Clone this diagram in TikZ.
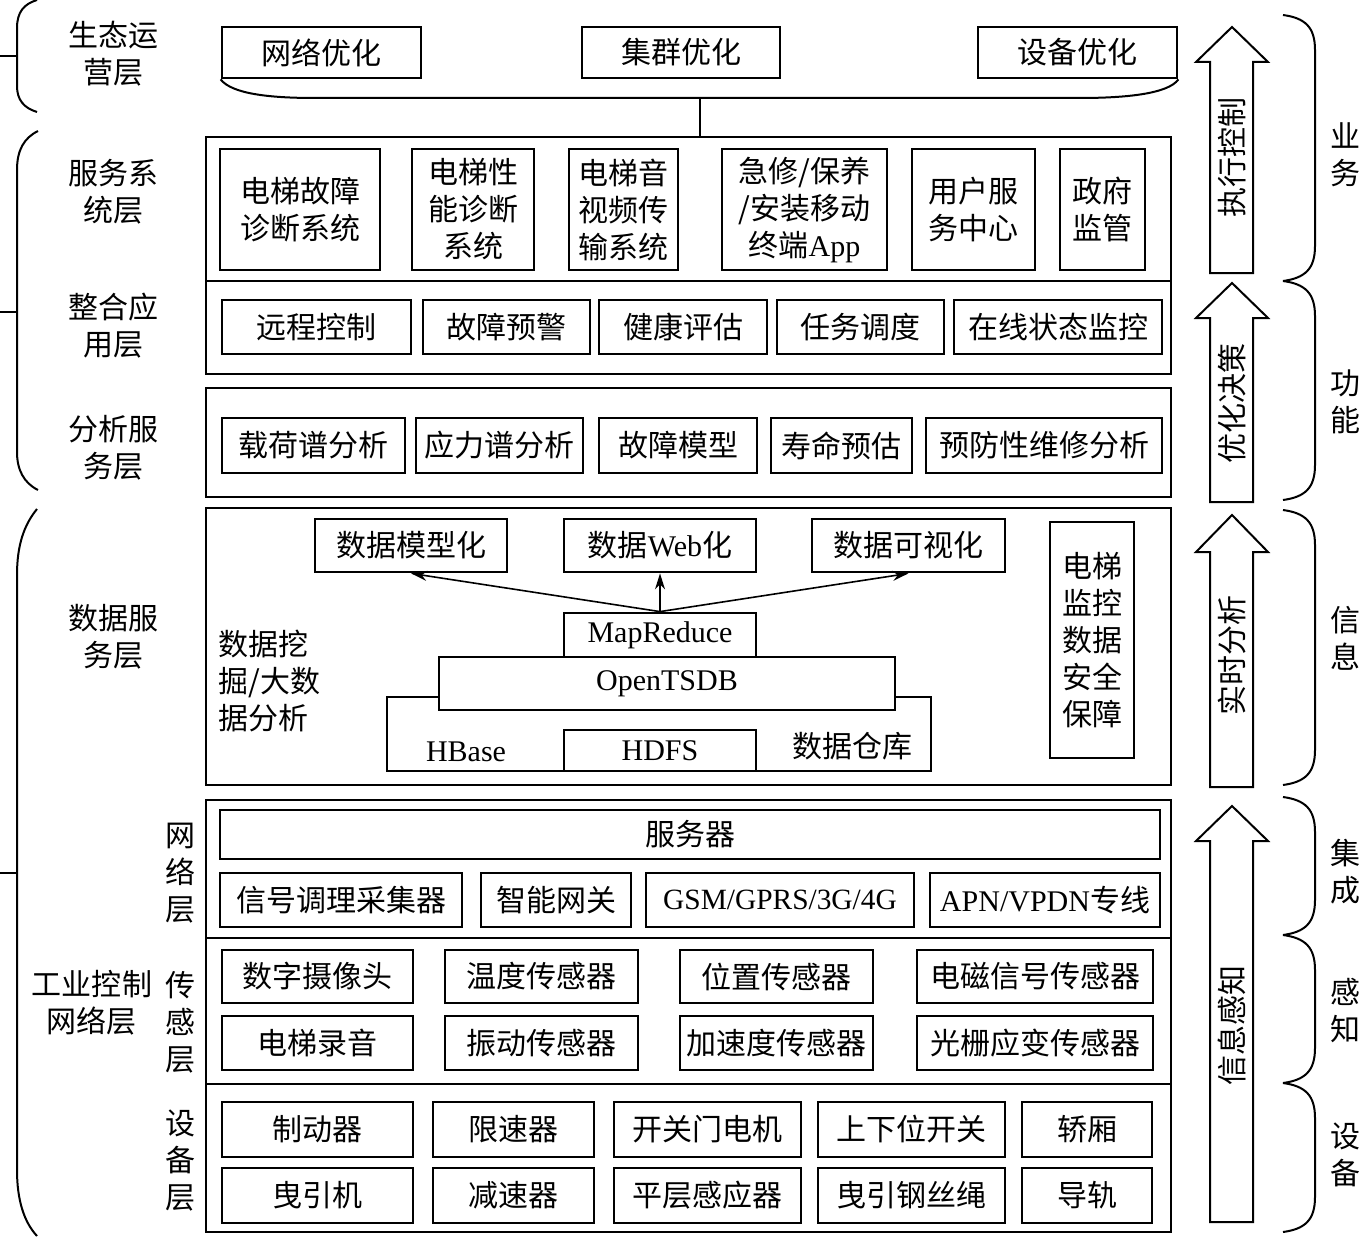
\documentclass[tikz,border=0pt]{standalone}
\usepackage{fontspec}
\setmainfont{Liberation Serif}
\newfontfamily\cjk{Noto Sans CJK SC}
\usetikzlibrary{arrows.meta}
\newcommand\bx[7][bx]{\node[#1, minimum width={(#5-#3)*0.5pt}, minimum height={(#6-#4)*0.5pt}] (#2) at ({(#3+#5)/2},{(#4+#6)/2}) {#7};}
\newcommand\blk[3]{\draw[barrow] (1232,#1) -- (1268,#2) -- (1253,#2) -- (1253,#3) -- (1210,#3) -- (1210,#2) -- (1196,#2) -- cycle;}
\begin{document}
\begin{tikzpicture}[x=0.5pt,y=-0.5pt,
  txt/.style={font=\cjk\fontsize{15}{18.5}\selectfont, align=center, inner sep=0pt},
  bx/.style={txt, draw, line width=1.4pt},
  layer/.style={draw, line width=1.4pt, inner sep=0pt},
  brc/.style={line width=1pt},
  flow/.style={line width=0.8pt, -{Stealth[length=8pt,width=5pt]}},
  barrow/.style={draw, line width=1pt, line join=miter},
]
\useasboundingbox (0,0) rectangle (1359,1236);

% ---------- layer frames ----------
\bx[layer]{svc}{206}{137}{1171}{281}{}
\bx[layer]{integ}{206}{281}{1171}{374}{}
\bx[layer]{ana}{206}{388}{1171}{497}{}
\bx[layer]{dat}{206}{508}{1171}{785}{}
\bx[layer]{net}{206}{800}{1171}{938}{}
\bx[layer]{sen}{206}{938}{1171}{1084}{}
\bx[layer]{dev}{206}{1084}{1171}{1232}{}

% ---------- ecological operation ----------
\bx{opt1}{222}{27}{421}{78}{网络优化}
\bx{opt2}{582}{27}{780}{78}{集群优化}
\bx{opt3}{978}{27}{1177}{78}{设备优化}
\draw[brc] (opt1.south west) .. controls (232,94) and (270,98) .. (315,98) -- (1080,98) .. controls (1125,98) and (1168,94) .. (opt3.south east);
\coordinate (bm) at (700,98);
\draw[brc] (bm) -- (bm |- svc.north);

% ---------- service systems ----------
\bx{s1}{220}{149}{380}{270}{电梯故障\\诊断系统}
\bx{s2}{412}{149}{534}{270}{电梯性\\能诊断\\系统}
\bx{s3}{569}{149}{678}{270}{电梯音\\视频传\\输系统}
\bx{s4}{722}{149}{887}{270}{急修/保养\\/安装移动\\终端{\rmfamily App}}
\bx{s5}{912}{149}{1035}{270}{用户服\\务中心}
\bx{s6}{1060}{149}{1145}{270}{政府\\监管}

% ---------- integration ----------
\bx{i1}{222}{300}{411}{354}{远程控制}
\bx{i2}{423}{300}{590}{354}{故障预警}
\bx{i3}{599}{300}{767}{354}{健康评估}
\bx{i4}{777}{300}{944}{354}{任务调度}
\bx{i5}{954}{300}{1162}{354}{在线状态监控}

% ---------- analysis ----------
\bx{a1}{222}{418}{405}{473}{载荷谱分析}
\bx{a2}{416}{418}{583}{473}{应力谱分析}
\bx{a3}{599}{418}{757}{473}{故障模型}
\bx{a4}{771}{418}{912}{473}{寿命预估}
\bx{a5}{926}{418}{1162}{473}{预防性维修分析}

% ---------- data service ----------
\bx{d1}{315}{519}{507}{572}{数据模型化}
\bx{d2}{564}{519}{756}{572}{数据{\rmfamily Web}化}
\bx{d3}{812}{519}{1005}{572}{数据可视化}
\bx{dsec}{1050}{522}{1134}{758}{电梯\\监控\\数据\\安全\\保障}
\bx{hb}{387}{697}{931}{771}{}
\bx[bx,fill=white]{ots}{439}{657}{895}{710}{{\rmfamily OpenTSDB}}
\bx[bx,fill=white]{mr}{564}{613}{756}{657}{{\rmfamily MapReduce}}
\bx{hdfs}{564}{730}{756}{771}{{\rmfamily HDFS}}
\node[txt] (hbl) at (466,752) {\rmfamily HBase};
\node[txt] (dwh) at (852,746) {数据仓库};
\node[txt, align=left, anchor=west] (mine) at (218,681) {数据挖\\掘/大数\\据分析};
\draw[flow] (mr.north) -- (d1.south);
\draw[flow] (mr.north) -- (d2.south);
\draw[flow] (mr.north) -- (d3.south);

% ---------- network ----------
\bx{srv}{220}{810}{1160}{859}{服务器}
\bx{n1}{220}{873}{462}{927}{信号调理采集器}
\bx{n2}{481}{873}{631}{927}{智能网关}
\bx[bx, font=\rmfamily\fontsize{14.7}{17}\selectfont]{n3}{646}{873}{914}{927}{GSM/GPRS/3G/4G}
\bx{n4}{930}{873}{1160}{927}{{\rmfamily APN/VPDN}专线}

% ---------- sensors ----------
\bx{e1}{222}{950}{413}{1003}{数字摄像头}
\bx{e2}{445}{950}{638}{1003}{温度传感器}
\bx{e3}{680}{950}{873}{1003}{位置传感器}
\bx{e4}{917}{950}{1153}{1003}{电磁信号传感器}
\bx{e5}{222}{1016}{413}{1070}{电梯录音}
\bx{e6}{445}{1016}{638}{1070}{振动传感器}
\bx{e7}{680}{1016}{873}{1070}{加速度传感器}
\bx{e8}{917}{1016}{1153}{1070}{光栅应变传感器}

% ---------- devices ----------
\bx{q1}{222}{1102}{413}{1157}{制动器}
\bx{q2}{433}{1102}{594}{1157}{限速器}
\bx{q3}{614}{1102}{801}{1157}{开关门电机}
\bx{q4}{818}{1102}{1005}{1157}{上下位开关}
\bx{q5}{1022}{1102}{1152}{1157}{轿厢}
\bx{q6}{222}{1168}{413}{1223}{曳引机}
\bx{q7}{433}{1168}{594}{1223}{减速器}
\bx{q8}{614}{1168}{801}{1223}{平层感应器}
\bx{q9}{818}{1168}{1005}{1223}{曳引钢丝绳}
\bx{q10}{1022}{1168}{1152}{1223}{导轨}

% ---------- left labels ----------
\node[txt] (l1) at (113,54) {生态运\\营层};
\node[txt] (l2) at (113,192) {服务系\\统层};
\node[txt] (l3) at (113,326) {整合应\\用层};
\node[txt] (l4) at (113,448) {分析服\\务层};
\node[txt] (l5) at (113,637) {数据服\\务层};
\node[txt] (l6) at (180,873) {网\\络\\层};
\node[txt] (l7) at (180,1022) {传\\感\\层};
\node[txt] (l8) at (180,1160) {设\\备\\层};
\node[txt] (l9) at (92,1003) {工业控制\\网络层};

% ---------- left braces ----------
\draw[brc] (37,0) .. controls (24,4) and (17,12) .. (17,28) -- (17,86) .. controls (17,100) and (24,108) .. (37,112);
\draw[brc] (0,56) -- (17,56);
\draw[brc] (38,131) .. controls (24,138) and (17,150) .. (17,170) -- (17,452) .. controls (17,470) and (24,483) .. (38,490);
\draw[brc] (0,312) -- (17,312);
\draw[brc] (37,509) .. controls (24,525) and (17,545) .. (17,575) -- (17,1170) .. controls (17,1200) and (24,1222) .. (37,1236);
\draw[brc] (0,873) -- (17,873);

% ---------- right block arrows ----------
\blk{27}{62}{273}
\blk{283}{318}{502}
\blk{515}{552}{787}
\blk{806}{841}{1222}
\node[txt, rotate=90] (t1) at (1232,157) {执行控制};
\node[txt, rotate=90] (t2) at (1232,403) {优化决策};
\node[txt, rotate=90] (t3) at (1232,655) {实时分析};
\node[txt, rotate=90] (t4) at (1232,1025) {信息感知};

% ---------- right braces ----------
\foreach \a/\b in {15/281, 281/500, 510/785, 797/935, 935/1083, 1083/1232}
  \draw[brc] (1283,\a) .. controls (1305,\a+3) and (1315,\a+12) .. (1315,\a+35) -- (1315,\b-35) .. controls (1315,\b-12) and (1305,\b-3) .. (1283,\b);
\node[txt] (r1) at (1345,155) {业\\务};
\node[txt] (r2) at (1345,402) {功\\能};
\node[txt] (r3) at (1345,638) {信\\息};
\node[txt] (r4) at (1345,872) {集\\成};
\node[txt] (r5) at (1345,1011) {感\\知};
\node[txt] (r6) at (1345,1155) {设\\备};
\end{tikzpicture}
\end{document}
